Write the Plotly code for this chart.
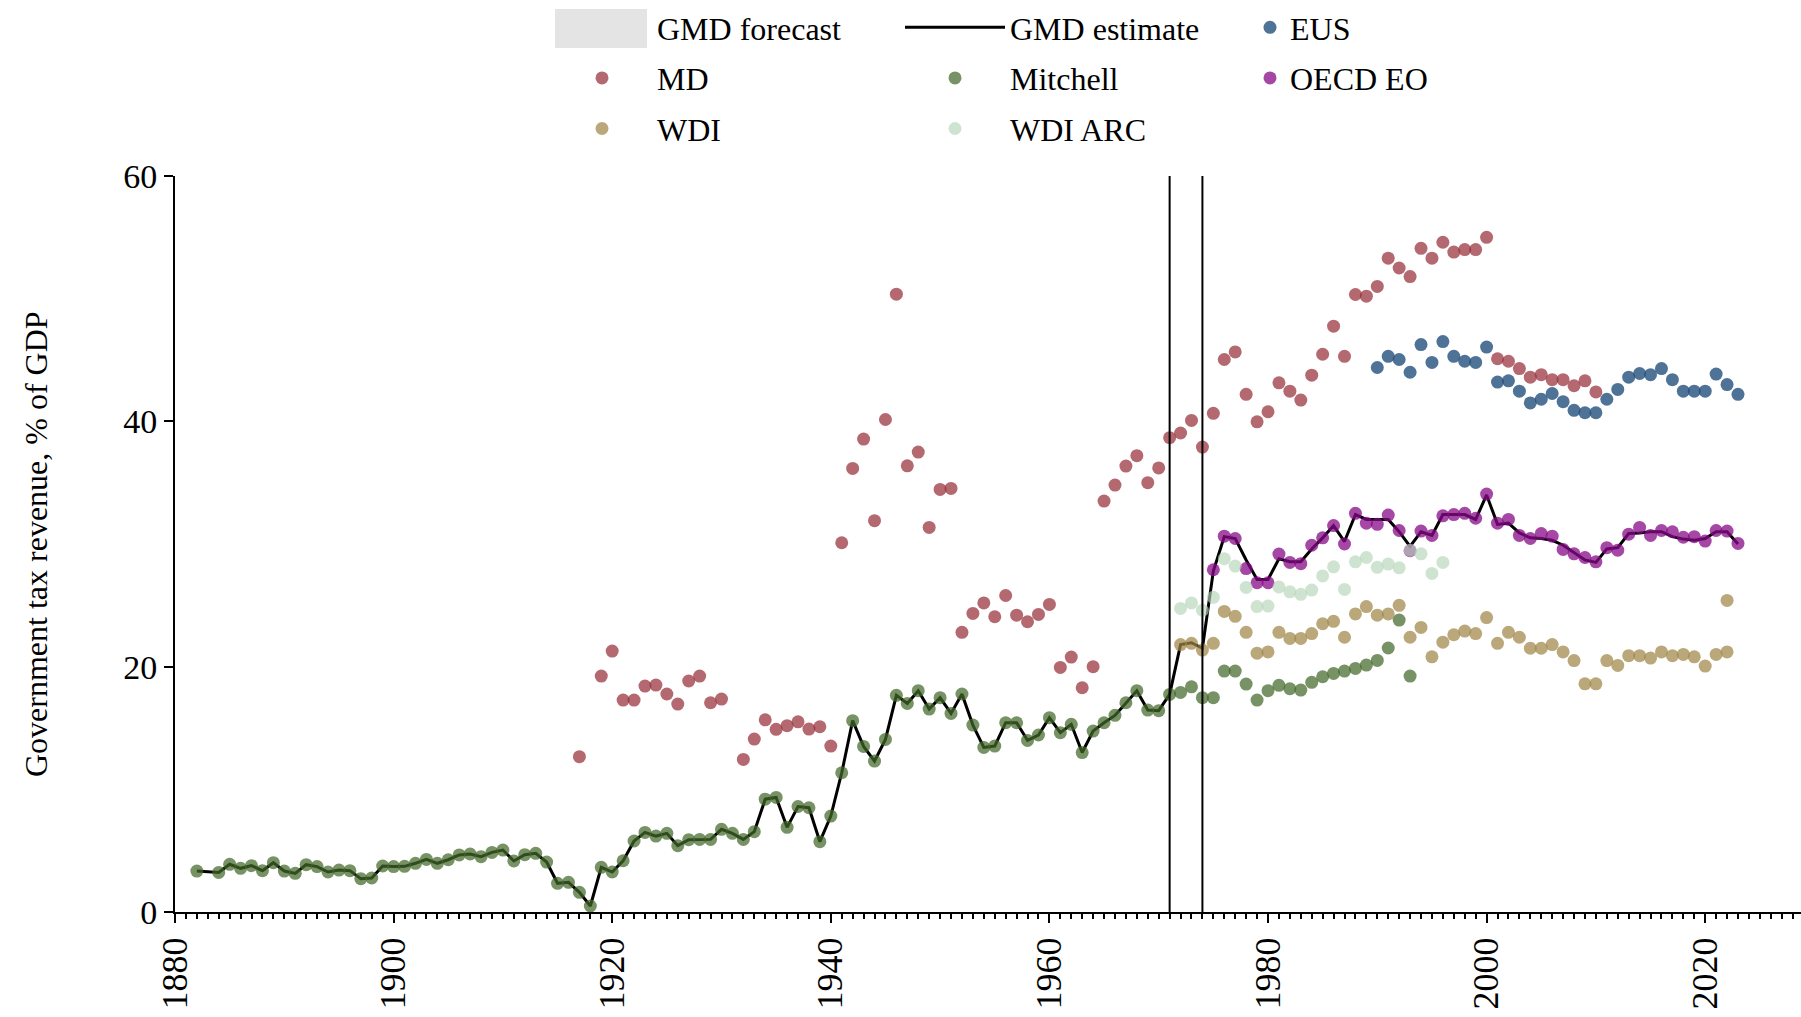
import plotly.graph_objects as go

# ---------------- data ----------------
# Mitchell (historical statistics)
mitchell_years = [1882] + list(range(1884, 1994))
mitchell_values = [
    3.34,
    3.23, 3.89, 3.56, 3.78, 3.37, 4.02, 3.34, 3.15, 3.86, 3.7, 3.26, 3.42, 3.37, 2.72, 2.77, 3.75,
    3.7, 3.72, 3.97, 4.29, 3.97, 4.26, 4.65, 4.73, 4.51, 4.86, 5.05, 4.16, 4.67, 4.78, 4.07, 2.34,
    2.42, 1.6, 0.49,
    3.64, 3.26, 4.18, 5.79, 6.49, 6.19, 6.41, 5.41, 5.9, 5.92, 5.92, 6.74, 6.41, 5.92, 6.55, 9.2,
    9.34, 6.9, 8.6, 8.5, 5.73, 7.82, 11.35, 15.6, 13.5, 12.3, 14.07, 17.66,
    17.0, 18.04, 16.54, 17.47, 16.19, 17.77, 15.24, 13.42, 13.53, 15.43, 15.43, 13.99, 14.43, 15.84,
    14.62, 15.3, 13.0, 14.75, 15.43, 16.03, 17.06, 18.04, 16.46, 16.41, 17.74,
    17.9, 18.36, 17.47, 17.47, 19.64, 19.64, 18.58, 17.28, 18.04, 18.48, 18.2, 18.09, 18.72, 19.18,
    19.45, 19.64, 19.86, 20.13, 20.51, 21.52, 23.8, 19.23,
]

# MD
md_years = [1917] + list(range(1919, 1931)) + list(range(1932, 2011))
md_values = [
    12.66,
    19.23, 21.27, 17.28, 17.28, 18.42, 18.5, 17.77, 16.95, 18.83, 19.23, 17.06, 17.36,
    12.44, 14.1, 15.67, 14.89, 15.19, 15.5, 14.91, 15.1, 13.53, 30.1, 36.16, 38.55, 31.9, 40.15,
    50.37, 36.37, 37.49, 31.35, 34.45, 34.53, 22.8, 24.34, 25.2, 24.07, 25.8, 24.2, 23.66, 24.26,
    25.07, 19.94, 20.78, 18.28, 20.0,
    33.5, 34.8, 36.35, 37.2, 35.0, 36.2, 38.67, 39.05, 40.07, 37.9, 40.65, 45.04, 45.66, 42.2,
    39.96, 40.78, 43.14, 42.46, 41.73, 43.76, 45.47, 47.76, 45.3, 50.34, 50.2, 51.0, 53.3, 52.5,
    51.8, 54.1, 53.3, 54.6, 53.8, 54.0, 54.0, 55.0,
    45.1, 44.9, 44.3, 43.6, 43.8, 43.4, 43.4, 42.9, 43.3, 42.4,
]

# EUS
eus_years = list(range(1990, 2024))
eus_values = [
    44.39, 45.3, 45.04, 44.0, 46.26, 44.8, 46.5, 45.3, 44.9, 44.8, 46.05,
    43.2, 43.3, 42.46, 41.5, 41.8, 42.27, 41.6, 40.9, 40.7, 40.7, 41.8, 42.6, 43.6, 43.9, 43.8,
    44.3, 43.4, 42.46, 42.46, 42.46, 43.85, 43.0, 42.2,
]

# OECD Economic Outlook
oecd_years = list(range(1975, 2024))
oecd_values = [
    27.9, 30.64, 30.45, 28.0, 26.84, 26.84, 29.18, 28.5, 28.4, 29.9, 30.5, 31.5, 30.0, 32.5, 31.7,
    31.6, 32.36, 31.1, 29.45, 31.05, 30.7, 32.3, 32.4, 32.5, 32.1, 34.07,
    31.7, 32.0, 30.7, 30.45, 30.85, 30.64, 29.56, 29.2, 28.9, 28.55, 29.7, 29.5, 30.8, 31.35, 30.7,
    31.1, 31.0, 30.55, 30.6, 30.24, 31.1, 31.05, 30.05,
]

# WDI
wdi_years = list(range(1972, 2023)) + [2022]
wdi_values = [
    21.8, 21.9, 21.35, 21.9, 24.5, 24.1, 22.8, 21.1, 21.2, 22.8, 22.3, 22.3, 22.7, 23.5, 23.7,
    22.4, 24.3, 24.9, 24.2, 24.3, 25.0, 22.4, 23.2, 20.8, 22.0, 22.6, 22.9, 22.7, 24.0,
    21.9, 22.8, 22.4, 21.5, 21.5, 21.8, 21.2, 20.5, 18.6, 18.6, 20.5, 20.1, 20.9, 20.9, 20.7,
    21.2, 20.9, 21.0, 20.8, 20.05, 21.0, 21.2,
    25.4,
]

# WDI ARC
wdiarc_years = list(range(1972, 1997))
wdiarc_values = [
    24.75, 25.2, 24.6, 25.65, 28.8, 28.2, 26.46, 24.9, 24.94, 26.5, 26.1, 25.9, 26.24, 27.4,
    28.14, 26.3, 28.55, 28.9, 28.1, 28.36, 28.06, 29.5, 29.2, 27.6, 28.5,
]

# GMD estimate (line): follows Mitchell until 1971, then later sources
gmd_early_years = [1882, 1883] + list(range(1884, 1972))
gmd_early_values = [3.34, 3.3] + mitchell_values[1:89]
gmd_late_years = list(range(1972, 2024))
gmd_late_values = [
    21.8, 21.95, 21.5, 27.8, 30.6, 30.45, 28.7, 27.1, 27.1, 28.8, 28.55, 28.55, 29.6, 30.5, 31.5,
    30.2, 32.4, 32.0, 32.0, 32.0, 31.0, 29.8, 31.0, 30.7, 32.4, 32.4, 32.4, 32.0, 34.0,
    31.6, 31.7, 30.9, 30.5, 30.45, 30.3, 29.9, 29.3, 28.7, 28.5, 29.6, 29.7, 30.85, 30.9, 31.0,
    31.0, 30.6, 30.4, 30.3, 30.45, 31.0, 31.0, 30.0,
]
gmd_years = gmd_early_years + gmd_late_years
gmd_values = gmd_early_values + gmd_late_values

# structural break markers
break_years = [1971, 1974]

# axis ticks
x_ticks = [1880, 1900, 1920, 1940, 1960, 1980, 2000, 2020]
y_ticks = [0, 20, 40, 60]

# ---------------- style ----------------
FONT = "Liberation Serif, Times New Roman, serif"
W, H = 1801, 1017
ML, MR, MT, MB = 175, 0, 176, 105
PW, PH = W - ML - MR, H - MT - MB

def px_to_paper_x(px):
    return (px - ML) / PW

def px_to_paper_y(py):
    return (H - MB - py) / PH

colors = {
    "EUS": "rgba(35,80,125,0.8)",
    "MD": "rgba(150,47,56,0.72)",
    "Mitchell": "rgba(66,104,40,0.72)",
    "OECD EO": "rgba(135,10,135,0.75)",
    "WDI": "rgba(160,135,70,0.72)",
    "WDI ARC": "rgba(180,214,184,0.65)",
}
MS = 13

fig = go.Figure()

fig.add_trace(go.Scatter(
    x=[None], y=[None], mode="lines", name="GMD forecast",
    line=dict(color="rgba(0,0,0,0)", width=1),
    legend="legend", legendgroup="fc", hoverinfo="skip"))

fig.add_trace(go.Scatter(
    x=gmd_years, y=gmd_values, mode="lines", name="GMD estimate",
    line=dict(color="black", width=3),
    legend="legend2", legendgroup="gmd"))

series = [
    ("EUS", eus_years, eus_values, "legend3"),
    ("MD", md_years, md_values, "legend"),
    ("Mitchell", mitchell_years, mitchell_values, "legend2"),
    ("OECD EO", oecd_years, oecd_values, "legend3"),
    ("WDI", wdi_years, wdi_values, "legend"),
    ("WDI ARC", wdiarc_years, wdiarc_values, "legend2"),
]
for name, xs, ys, lg in series:
    fig.add_trace(go.Scatter(
        x=xs, y=ys, mode="markers", name=name,
        marker=dict(color=colors[name], size=MS, line=dict(width=0)),
        legend=lg, legendgroup=name))

shapes = []
for yr in break_years:
    shapes.append(dict(type="line", xref="x", yref="y", x0=yr, x1=yr, y0=0, y1=60,
                       line=dict(color="black", width=2), layer="above"))
# legend key box for the forecast entry
shapes.append(dict(type="rect", xref="paper", yref="paper",
                   x0=px_to_paper_x(555), x1=px_to_paper_x(647),
                   y0=px_to_paper_y(48), y1=px_to_paper_y(9),
                   fillcolor="#e4e4e4", line=dict(width=0), layer="above"))

legend_common = dict(
    orientation="v", xanchor="left", yanchor="top",
    bgcolor="rgba(0,0,0,0)", borderwidth=0,
    font=dict(family=FONT, size=32, color="black"),
    tracegroupgap=6, itemsizing="trace",
)
LEG_TOP = 0
fig.update_layout(
    width=W, height=H,
    margin=dict(l=ML, r=MR, t=MT, b=MB, autoexpand=False),
    paper_bgcolor="white", plot_bgcolor="white",
    font=dict(family=FONT, size=32, color="black"),
    showlegend=True,
    legend=dict(**legend_common, x=px_to_paper_x(547), y=px_to_paper_y(LEG_TOP), itemwidth=100),
    legend2=dict(**legend_common, x=px_to_paper_x(900), y=px_to_paper_y(LEG_TOP), itemwidth=100),
    legend3=dict(**legend_common, x=px_to_paper_x(1250), y=px_to_paper_y(LEG_TOP), itemwidth=30),
    xaxis=dict(
        range=[1880, 1880 + PW / 10.93], tickmode="array", tickvals=x_ticks,
        ticktext=[str(t) for t in x_ticks], tickangle=-90,
        showgrid=False, zeroline=False, showline=True, linecolor="black", linewidth=2,
        ticks="outside", ticklen=9, tickwidth=2, tickcolor="black",
        tickfont=dict(family=FONT, size=36, color="black"),
        minor=dict(dtick=1, tick0=1880, ticks="outside", ticklen=5, tickwidth=1.5, tickcolor="black"),
    ),
    yaxis=dict(
        range=[0, 60], tickmode="array", tickvals=y_ticks,
        showgrid=False, zeroline=False, showline=True, linecolor="black", linewidth=2,
        ticks="outside", ticklen=9, tickwidth=2, tickcolor="black",
        tickfont=dict(family=FONT, size=34, color="black"),
    ),
    shapes=shapes,
    annotations=[dict(
        text="Government tax revenue, % of GDP", textangle=-90,
        xref="paper", yref="paper", x=px_to_paper_x(36), y=0.5,
        xanchor="center", yanchor="middle", showarrow=False,
        font=dict(family=FONT, size=32, color="black"))],
)

fig.write_html("out.html", config={"displayModeBar": False},
               post_script="document.body.style.margin='0';")
